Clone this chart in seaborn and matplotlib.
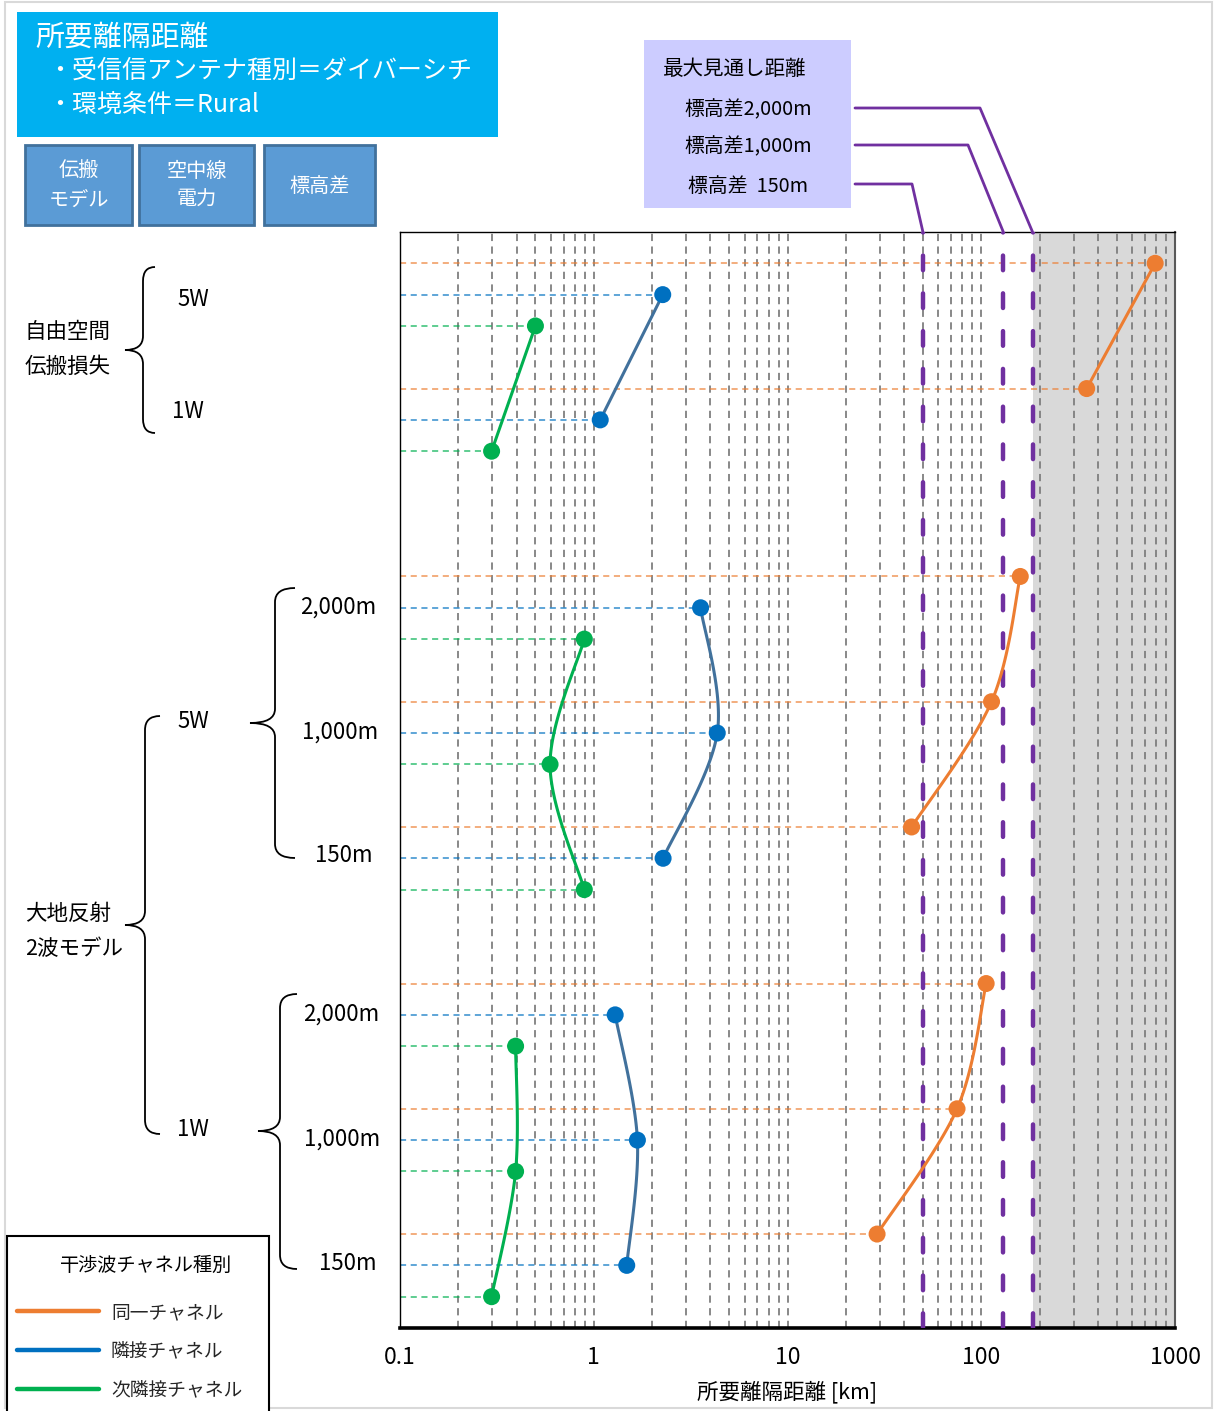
import numpy as np
import pandas as pd
import seaborn as sns
import matplotlib.pyplot as plt
from matplotlib.patches import Rectangle, PathPatch
from matplotlib.path import Path
from matplotlib.lines import Line2D

# --- data (km) ---
cases = ['自由空間 5W', '自由空間 1W',
         '2波 5W 2,000m', '2波 5W 1,000m', '2波 5W 150m',
         '2波 1W 2,000m', '2波 1W 1,000m', '2波 1W 150m']
case_block = ['fs', 'fs', '5w', '5w', '5w', '1w', '1w', '1w']
co_channel = [790, 350, 159, 113, 43.7, 106, 75, 29]
adjacent = [2.27, 1.08, 3.56, 4.34, 2.28, 1.29, 1.68, 1.48]
next_adjacent = [0.5, 0.297, 0.894, 0.595, 0.894, 0.395, 0.395, 0.297]

series_names = ['同一チャネル', '隣接チャネル', '次隣接チャネル']
marker_colors = ['#ED7D31', '#0070C0', '#00B050']
line_colors = ['#ED7D31', '#41719C', '#00B050']

los_labels = ['標高差2,000m', '標高差1,000m', '標高差  150m']
los_km = [184, 130, 50]

x_ticks = [0.1, 1, 10, 100, 1000]
x_ticklabels = ['0.1', '1', '10', '100', '1000']

# row layout: 4 rows per case, bigger gaps between blocks
block_step = {'fs': 4, '5w': 6, '1w': 5}
centers = []
row = 2
prev = None
for b in case_block:
    if prev is not None:
        row += 4 if b == prev else block_step[b]
    centers.append(row)
    prev = b

values = [co_channel, adjacent, next_adjacent]
recs = []
for k, name in enumerate(series_names):
    for i, c in enumerate(cases):
        recs.append({'case': c, 'block': case_block[i], 'series': name,
                     'km': values[k][i], 'row': centers[i] + (k - 1)})
df = pd.DataFrame(recs)


def smooth(xs, ys, n=40):
    # excel-like smoothed line, done in log-x space
    P = np.column_stack([np.log10(xs), np.asarray(ys, float)])
    if len(P) < 3:
        return np.asarray(xs), np.asarray(ys)
    segs = []
    t = np.linspace(0, 1, n)[:, None]
    for i in range(len(P) - 1):
        p0 = P[i - 1] if i > 0 else P[i]
        p3 = P[i + 2] if i + 2 < len(P) else P[i + 1]
        p1, p2 = P[i], P[i + 1]
        c1 = p1 + (p2 - p0) / 6
        c2 = p2 - (p3 - p1) / 6
        segs.append((1 - t) ** 3 * p1 + 3 * (1 - t) ** 2 * t * c1
                    + 3 * (1 - t) * t ** 2 * c2 + t ** 3 * p2)
    S = np.vstack(segs)
    return 10 ** S[:, 0], S[:, 1]


sns.set_theme(style='white')
plt.rcParams['font.family'] = ['Noto Sans CJK JP', 'DejaVu Sans']

W, H = 1215, 1411
fig = plt.figure(figsize=(W / 100, H / 100), dpi=100)
fig.patch.set_facecolor('white')


def fx(x):
    return x / W


def fy(y):
    return 1 - y / H


ax = fig.add_axes([fx(400), fy(1328), (1175 - 400) / W, (1328 - 232) / H])
ax.set_xscale('log')
ax.set_xlim(0.1, 1000)
ax.set_ylim(35, 0)

# beyond line-of-sight area
ax.axvspan(max(los_km), 1000, color='#D9D9D9', zorder=0, lw=0)
ax.set_axisbelow(True)
ax.xaxis.grid(True, which='both', ls=(0, (4, 3)), color='#7F7F7F', lw=1.3)
ax.yaxis.grid(False)

# leader lines from the axis to each point
for k, name in enumerate(series_names):
    sub = df[df['series'] == name]
    for _, r in sub.iterrows():
        ax.plot([0.1, r['km']], [r['row'], r['row']], ls=(0, (4, 3)), lw=1.1,
                color=marker_colors[k], alpha=0.8, zorder=2)

# max line-of-sight distances
for km in los_km:
    ax.axvline(km, color='#7030A0', lw=3.2, ls=(0, (3.3, 5.2)),
               dash_capstyle='round', zorder=3)

# smoothed connecting lines per block
for k, name in enumerate(series_names):
    for b in ['fs', '5w', '1w']:
        sub = df[(df['series'] == name) & (df['block'] == b)]
        xs, ys = smooth(sub['km'].values, sub['row'].values)
        ax.plot(xs, ys, color=line_colors[k], lw=2.2, zorder=4,
                solid_capstyle='round')

sns.scatterplot(data=df, x='km', y='row', hue='series', hue_order=series_names,
                palette=marker_colors, s=150, edgecolor='none', legend=False,
                zorder=5, ax=ax, clip_on=False)

ax.set_yticks([])
ax.set_ylabel('')
ax.set_xticks(x_ticks, labels=x_ticklabels)
ax.minorticks_on()
ax.yaxis.set_minor_locator(plt.NullLocator())
ax.tick_params(axis='x', which='both', length=0, pad=13, labelsize=16.5,
               labelcolor='black')
ax.set_xlabel('所要離隔距離 [km]', fontsize=15.5, labelpad=8, color='black')
for s in ['top', 'left']:
    ax.spines[s].set_color('black')
    ax.spines[s].set_linewidth(1.0)
ax.spines['bottom'].set_color('black')
ax.spines['bottom'].set_linewidth(2.6)
ax.spines['right'].set_color('#595959')
ax.spines['right'].set_linewidth(1.5)


# --- figure decorations ---
def box(x0, y0, x1, y1, fc, ec='none', lw=0):
    fig.add_artist(Rectangle((fx(x0), fy(y1)), (x1 - x0) / W, (y1 - y0) / H,
                             transform=fig.transFigure, facecolor=fc,
                             edgecolor=ec, lw=lw))


def brace(x, top, mid, bot, tip, hook=12, r=14):
    pts = [(x + hook, top), (x, top), (x, top + r), (x, mid - r), (x, mid), (tip, mid),
           (x, mid), (x, mid + r), (x, bot - r), (x, bot), (x + hook, bot)]
    codes = [Path.MOVETO, Path.CURVE3, Path.CURVE3, Path.LINETO, Path.CURVE3, Path.CURVE3,
             Path.CURVE3, Path.CURVE3, Path.LINETO, Path.CURVE3, Path.CURVE3]
    p = Path([(fx(a), fy(b)) for a, b in pts], codes)
    fig.add_artist(PathPatch(p, transform=fig.transFigure, fill=False,
                             edgecolor='black', lw=1.3))


# outer frame
box(5, 2, 1212, 1408, 'none', ec='#D9D9D9', lw=1.5)

# title box
box(17, 12, 498, 137, '#00B0F0')
fig.text(fx(35), fy(38), '所要離隔距離', color='white', fontsize=20.8, va='center')
fig.text(fx(47), fy(71), '・受信信アンテナ種別＝ダイバーシチ', color='white',
         fontsize=18, va='center')
fig.text(fx(47), fy(106), '・環境条件＝Rural', color='white', fontsize=18,
         va='center')

# header buttons
for (x0, x1), txt in zip([(25, 132), (139, 254), (264, 375)],
                         ['伝搬\nモデル', '空中線\n電力', '標高差']):
    box(x0, 145, x1, 225, '#5B9BD5', ec='#41719C', lw=2)
    fig.text(fx((x0 + x1) / 2), fy(186), txt, color='white', fontsize=14.5,
             ha='center', va='center', linespacing=1.45)

# max line-of-sight box with connectors
box(644, 40, 851, 208, '#CCCCFF')
fig.text(fx(663), fy(69), '最大見通し距離', fontsize=14.8, va='center', color='black')
label_y = [108, 145, 184]
knee_x = [980, 968, 912]
for lab, ly, kx, km in zip(los_labels, label_y, knee_x, los_km):
    fig.text(fx(748), fy(ly + 2), lab, fontsize=14.3, ha='center', va='center',
             color='black')
    ex, ey = fig.transFigure.inverted().transform(ax.transData.transform((km, 0)))
    fig.add_artist(Line2D([fx(855), fx(kx), ex], [fy(ly), fy(ly), ey],
                          transform=fig.transFigure, color='#7030A0', lw=2))

# category braces and labels on the left
brace(143, 267, 350, 433, 125)
brace(275, 588, 723, 858, 250, hook=20)
brace(145, 716, 925, 1134, 125, hook=15)
brace(280, 994, 1131, 1269, 258, hook=17)

left_labels = [
    (193, 300, '5W', 'center'), (188, 412, '1W', 'center'),
    (25, 332, '自由空間', 'left'), (25, 367, '伝搬損失', 'left'),
    (193, 721, '5W', 'center'), (193, 1130, '1W', 'center'),
    (25, 914, '大地反射', 'left'), (25, 949, '2波モデル', 'left'),
    (338, 607, '2,000m', 'center'), (340, 732, '1,000m', 'center'),
    (344, 856, '150m', 'center'),
    (341, 1014, '2,000m', 'center'), (342, 1139, '1,000m', 'center'),
    (348, 1264, '150m', 'center'),
]
for x, y, t, ha in left_labels:
    fs = 15.5 if ha == 'left' else 16
    fig.text(fx(x), fy(y), t, fontsize=fs, ha=ha, va='center', color='black')

# legend (frame drawn separately so it runs off the bottom edge)
box(7, 1236, 269, 1416, 'white', ec='black', lw=1.5)
fig.text(fx(146), fy(1265), '干渉波チャネル種別', fontsize=13.8, ha='center',
         va='center', color='black')
handles = [Line2D([], [], color=c, lw=3.2) for c in marker_colors]
leg = fig.legend(handles, series_names, loc='upper left',
                 bbox_to_anchor=(fx(17), fy(1302)), bbox_transform=fig.transFigure,
                 borderaxespad=0, borderpad=0, fontsize=13.5,
                 frameon=False, handlelength=4.37, handletextpad=0.64,
                 labelspacing=0.95)

fig.savefig('out.png', dpi=100)
